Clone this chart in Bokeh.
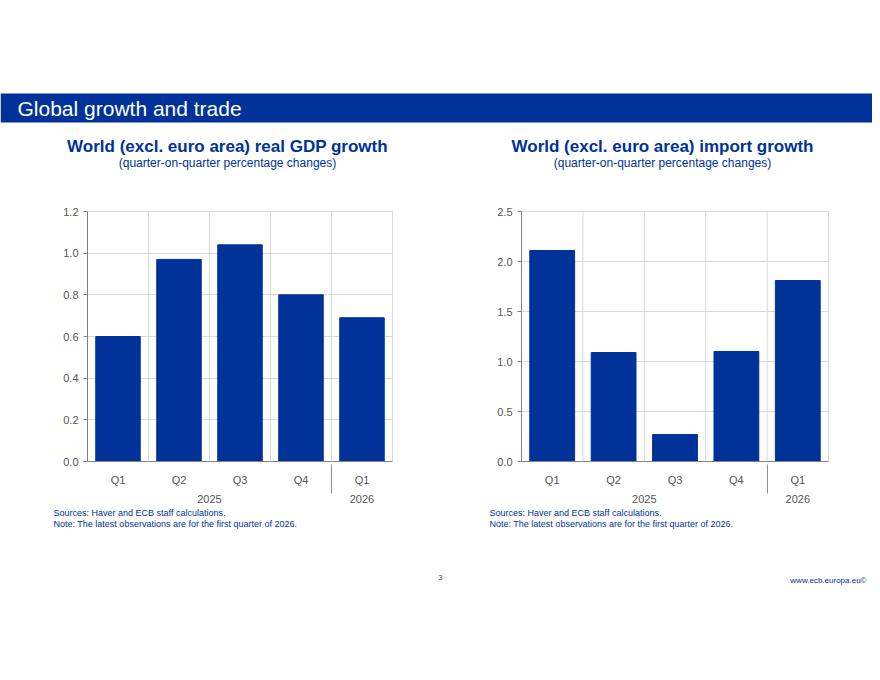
from bokeh.plotting import figure
from bokeh.models import FactorRange, Range1d, Span, Label, FixedTicker, NumeralTickFormatter
from bokeh.layouts import column, row
from bokeh.embed import file_html
from bokeh.resources import INLINE

years = ["2025", "2025", "2025", "2025", "2026"]
quarters = ["Q1", "Q2", "Q3", "Q4", "Q1"]
gdp_growth = [0.60, 0.97, 1.04, 0.80, 0.69]
import_growth = [2.11, 1.09, 0.27, 1.10, 1.81]
gdp_ticks = [0.0, 0.2, 0.4, 0.6, 0.8, 1.0, 1.2]
imp_ticks = [0.0, 0.5, 1.0, 1.5, 2.0, 2.5]

BLUE = "#003299"
FONT = "Liberation Sans"
GRID = "#d9d9d9"
W = 872


def canvas(h):
    f = figure(width=W, height=h, x_range=Range1d(0, W), y_range=Range1d(h, 0),
               output_backend="svg", toolbar_location=None, min_border=0)
    f.axis.visible = False
    f.grid.visible = False
    f.outline_line_color = None
    return f


def lbl(f, x, y, text, size, color=BLUE, align="left", bold=False):
    f.add_layout(Label(x=x, y=y, text=text, text_font=FONT, text_font_size=size,
                       text_color=color, text_align=align, text_baseline="middle",
                       text_font_style="bold" if bold else "normal"))


header = canvas(195)
header.quad(left=[0], right=[W], top=[93], bottom=[122], fill_color=BLUE, line_color=None)
lbl(header, 17, 108, "Global growth and trade", "21px", color="white")
lbl(header, 227, 146, "World (excl. euro area) real GDP growth", "17px", align="center", bold=True)
lbl(header, 227, 162, "(quarter-on-quarter percentage changes)", "12px", align="center")
lbl(header, 662, 146, "World (excl. euro area) import growth", "17px", align="center", bold=True)
lbl(header, 662, 162, "(quarter-on-quarter percentage changes)", "12px", align="center")

footer = canvas(100)
for x0 in (53, 489):
    lbl(footer, x0, 7, "Sources: Haver and ECB staff calculations.", "9px")
    lbl(footer, x0, 18, "Note: The latest observations are for the first quarter of 2026.", "9px")
lbl(footer, 440, 72, "3", "8px", color="#555555", align="center")
lbl(footer, 866, 75, "www.ecb.europa.eu\u00a9", "8px", align="right")


def chart(vals, ticks, ymax, bl, fw, br, bt, fh, bb):
    factors = list(zip(years, quarters))
    p = figure(width=bl + fw + br, height=bt + fh + bb,
               x_range=FactorRange(*factors, group_padding=0, factor_padding=0, range_padding=0),
               y_range=Range1d(0, ymax), output_backend="svg", toolbar_location=None,
               min_border_left=bl, min_border_right=br, min_border_top=bt, min_border_bottom=bb)
    p.vbar(x=factors, top=vals, width=0.73, fill_color=BLUE, line_color=BLUE)
    p.xgrid.visible = False
    for i in range(1, 6):
        p.add_layout(Span(location=i, dimension="height", line_color=GRID, line_width=1))
    p.ygrid.grid_line_color = GRID
    p.outline_line_color = GRID
    p.yaxis.ticker = FixedTicker(ticks=ticks)
    p.yaxis.formatter = NumeralTickFormatter(format="0.0")
    for ax in (p.xaxis[0], p.yaxis[0]):
        ax.axis_line_color = "#808080"
        ax.major_tick_line_color = "#808080"
        ax.minor_tick_line_color = None
        ax.major_label_text_font = FONT
        ax.major_label_text_font_size = "11px"
        ax.major_label_text_color = "#555555"
    p.yaxis.major_tick_in = 0
    p.yaxis.major_tick_out = 4
    p.xaxis.major_tick_line_color = None
    p.xaxis.major_label_standoff = 6
    p.xaxis.group_text_font = FONT
    p.xaxis.group_text_font_size = "11px"
    p.xaxis.group_text_font_style = "normal"
    p.xaxis.group_text_color = "#555555"
    p.xaxis.separator_line_color = "#909090"
    p.xaxis.separator_line_width = 1
    p.xaxis.major_label_orientation = "horizontal"
    return p


left = chart(gdp_growth, gdp_ticks, 1.2, 87, 305, 48, 16, 252, 42)
right = chart(import_growth, imp_ticks, 2.5, 81, 307, 44, 16, 252, 42)

page = column(header, row(left, right, spacing=0), footer, spacing=0)
open("out.html", "w").write(file_html(page, INLINE))
